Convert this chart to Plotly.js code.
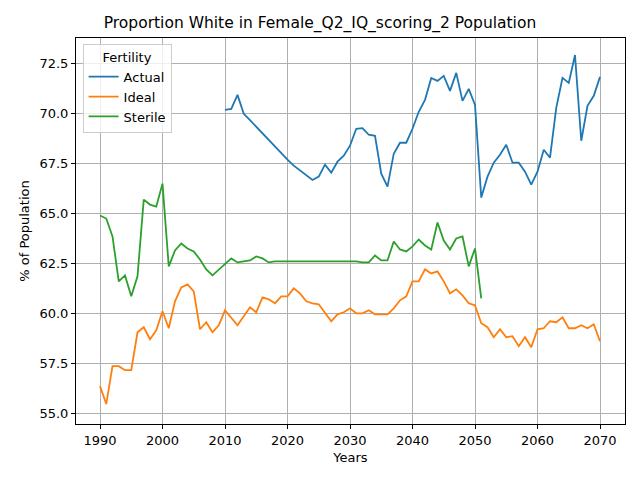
<!DOCTYPE html>
<html><head><meta charset="utf-8">
<script src="https://cdn.plot.ly/plotly-3.0.1.min.js"></script>
<style>body{margin:0}#chart{width:640px;height:480px}</style>
</head><body><div id="chart"></div>
<script>
// values, one per year
const actualYears = Array.from({length:61},(_,i)=>2010+i);
const actual = [70.2,70.25,70.95,70.0,69.68,69.35,69.0,68.68,68.35,68.0,
  67.7,67.4,67.15,66.9,66.68,66.85,67.45,67.05,67.6,67.9,
  68.4,69.25,69.28,68.95,68.9,67.0,66.35,68.0,68.55,68.55,
  69.25,70.1,70.7,71.8,71.65,71.9,71.15,72.05,70.65,71.25,
  70.45,65.8,66.85,67.55,67.95,68.45,67.55,67.55,67.1,66.45,
  67.1,68.2,67.8,70.3,71.8,71.55,72.95,68.65,70.4,70.9,71.85];
const idealYears = Array.from({length:81},(_,i)=>1990+i);
const ideal = [56.35,55.45,57.35,57.35,57.15,57.15,59.05,59.3,58.7,59.15,
  60.1,59.25,60.6,61.3,61.45,61.1,59.2,59.55,59.05,59.4,
  60.15,59.75,59.4,59.85,60.3,60.05,60.8,60.7,60.5,60.85,
  60.85,61.25,61.0,60.6,60.5,60.45,60.0,59.6,59.95,60.05,
  60.25,60.0,60.0,60.15,59.95,59.95,59.95,60.25,60.65,60.85,
  61.6,61.6,62.2,62.0,62.1,61.6,61.0,61.2,60.9,60.5,
  60.4,59.5,59.3,58.8,59.2,58.8,58.85,58.35,58.8,58.3,
  59.2,59.25,59.6,59.55,59.8,59.25,59.25,59.4,59.25,59.45,58.6];
const sterileYears = Array.from({length:62},(_,i)=>1990+i);
const sterile = [64.9,64.75,63.85,61.6,61.9,60.85,61.85,65.7,65.45,65.35,
  66.5,62.35,63.15,63.5,63.25,63.1,62.7,62.2,61.9,62.2,
  62.45,62.75,62.55,62.6,62.65,62.85,62.75,62.55,62.6,62.6,
  62.6,62.6,62.6,62.6,62.6,62.6,62.6,62.6,62.6,62.6,
  62.6,62.6,62.55,62.55,62.9,62.65,62.65,63.6,63.2,63.1,
  63.35,63.7,63.4,63.2,64.55,63.65,63.2,63.75,63.85,62.35,63.25,60.75];

const line = c => ({color:c, width:1.8});
const traces = [
  {x:actualYears, y:actual, name:'Actual', mode:'lines', line:line('#1f77b4')},
  {x:idealYears, y:ideal, name:'Ideal', mode:'lines', line:line('#ff7f0e')},
  {x:sterileYears, y:sterile, name:'Sterile', mode:'lines', line:line('#2ca02c')},
];
const ax = {showgrid:true, gridcolor:'#b0b0b0', gridwidth:1, zeroline:false,
  showline:true, mirror:true, linecolor:'black', linewidth:1,
  ticks:'outside', ticklen:4, tickcolor:'black', tickfont:{size:13,color:'black'}};
const layout = {
  width:640, height:480, paper_bgcolor:'white', plot_bgcolor:'white',
  font:{family:'DejaVu Sans', color:'black'},
  margin:{l:76, r:15, t:38, b:56},
  title:{text:'Proportion White in Female_Q2_IQ_scoring_2 Population', font:{size:15.5}, x:0.5, xanchor:'center', y:0.965},
  xaxis:Object.assign({}, ax, {range:[1986.16,2074], tickvals:[1990,2000,2010,2020,2030,2040,2050,2060,2070],
    title:{text:'Years', font:{size:13}, standoff:6}}),
  yaxis:Object.assign({}, ax, {range:[54.45,73.8], tickvals:[55,57.5,60,62.5,65,67.5,70,72.5],
    ticktext:['55.0','57.5','60.0','62.5','65.0','67.5','70.0','72.5'],
    title:{text:'% of Population', font:{size:13}, standoff:6}}),
  showlegend:true,
  legend:{title:{text:'Fertility', side:'top center', font:{size:13}}, x:0.012, y:0.985, xanchor:'left', yanchor:'top',
    bgcolor:'rgba(255,255,255,0.8)', bordercolor:'#ccc', borderwidth:1, font:{size:13}, tracegroupgap:2},
};
Plotly.newPlot('chart', traces, layout, {staticPlot:true});
</script></body></html>
